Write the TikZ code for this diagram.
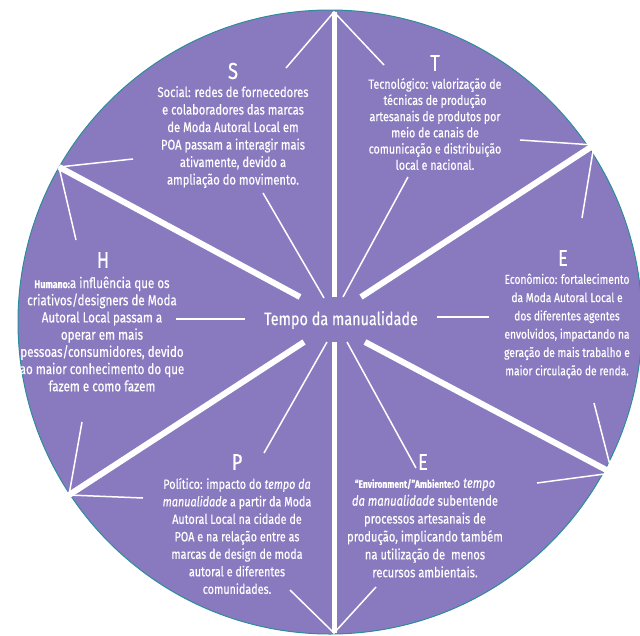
\documentclass[tikz,border=0pt]{standalone}
\usepackage{fontspec}
\setmainfont[FakeStretch=0.8,FakeBold=0.4]{Fira Sans}
\definecolor{bg}{RGB}{137,122,192}
\definecolor{rimc}{RGB}{45,140,155}
\begin{document}
\begin{tikzpicture}[x=1pt,y=-1pt,
  bigline/.style={white,line width=6pt},
  vline/.style={white,line width=5pt},
  thinline/.style={white,line width=1.5pt},
  txt/.style={text=white,align=center,inner sep=0pt,font=\fontsize{13.5}{17.5}\selectfont},
  letter/.style={text=white,inner sep=0pt,font=\fontsize{23}{24}\selectfont},
  centre/.style={text=white,inner sep=2pt,font=\fontsize{18}{20}\selectfont}]
\useasboundingbox (0,0) rectangle (640,635);
\fill[bg,draw=rimc,line width=1pt] (330,322) circle (312pt);
% rim points
\coordinate (top) at (334,12);
\coordinate (bot) at (334,633);
\coordinate (ul) at (59,167);
\coordinate (ur) at (594,145);
\coordinate (ll) at (69,495);
\coordinate (lr) at (612,473);
% inner ends
\coordinate (cu) at (334,297);
\coordinate (cd) at (334,342);
\coordinate (cul) at (300,297);
\coordinate (cur) at (361,297);
\coordinate (cll) at (304,342);
\coordinate (clr) at (365,342);
% thick spokes
\draw[vline] (top) -- (cu);
\draw[vline] (cd) -- (bot);
\draw[bigline] (ul) -- (cul);
\draw[bigline] (ur) -- (cur);
\draw[bigline] (ll) -- (cll);
\draw[bigline] (lr) -- (clr);
% thin ends
\coordinate (t1) at (286,68);
\coordinate (t2) at (384,65);
\coordinate (ul1) at (133,159);
\coordinate (ul2) at (76,240);
\coordinate (ur1) at (520,140);
\coordinate (ur2) at (582,218);
\coordinate (ll1) at (143,498);
\coordinate (ll2) at (82,422);
\coordinate (lr1) at (537,483);
\coordinate (lr2) at (594,403);
\coordinate (b1) at (290,590);
\coordinate (b2) at (376,587);
\coordinate (a1s) at (324,298);
\coordinate (a1e) at (263,193);
\coordinate (a2s) at (343,297);
\coordinate (a2e) at (408,177);
\coordinate (d1s) at (327,342);
\coordinate (d1e) at (264,453);
\coordinate (d2s) at (347,342);
\coordinate (d2e) at (416,468);
\coordinate (hl1) at (176,319);
\coordinate (hl2) at (245,319);
\coordinate (hr1) at (437,317);
\coordinate (hr2) at (489,317);
\draw[thinline] (t1) -- (top) -- (t2);
\draw[thinline] (ul1) -- (ul) -- (ul2);
\draw[thinline] (ur1) -- (ur) -- (ur2);
\draw[thinline] (ll1) -- (ll) -- (ll2);
\draw[thinline] (lr1) -- (lr) -- (lr2);
\draw[thinline] (b1) -- (bot) -- (b2);
\draw[thinline] (a1s) -- (a1e);
\draw[thinline] (a2s) -- (a2e);
\draw[thinline] (d1s) -- (d1e);
\draw[thinline] (d2s) -- (d2e);
\draw[thinline] (hl1) -- (hl2);
\draw[thinline] (hr1) -- (hr2);
% centre
\node[centre] (tempo) at (341,320) {Tempo da manualidade};
% letters
\node[letter] (lS) at (233,71) {S};
\node[letter] (lT) at (435,63) {T};
\node[letter] (lH) at (103,260) {H};
\node[letter] (lE1) at (563,258) {E};
\node[letter] (lP) at (237,462) {P};
\node[letter] (lE2) at (423,462) {E};
% texts
\node[txt,font=\fontsize{14}{17.5}\selectfont] (tS) at (233,137) {Social: redes de fornecedores\\e colaboradores das marcas\\de Moda Autoral Local em\\POA passam a interagir mais\\ativamente, devido a\\ampliação do movimento.};
\node[txt,font=\fontsize{13.3}{16.2}\selectfont] (tT) at (435,124) {Tecnológico: valorização de\\técnicas de produção\\artesanais de produtos por\\meio de canais de\\comunicação e distribuição\\local e nacional.};
\node[txt,font=\fontsize{14.5}{17.2}\selectfont] (tH) at (102,334) {{\fontsize{11}{17}\selectfont\bfseries Humano:}a influência que os\\criativos/designers de Moda\\Autoral Local passam a\\operar em mais\\pessoas/consumidores, devido\\ao maior conhecimento do que\\fazem e como fazem};
\node[txt,font=\fontsize{12.8}{18.3}\selectfont] (tE1) at (567,326) {Econômico: fortalecimento\\da Moda Autoral Local e\\dos diferentes agentes\\envolvidos, impactando na\\geração de mais trabalho e\\maior circulação de renda.};
\node[txt] (tP) at (237,536) {Político: impacto do \textit{tempo da}\\\textit{manualidade} a partir da Moda\\Autoral Local na cidade de\\POA e na relação entre as\\marcas de design de moda\\autoral e diferentes\\comunidades.};
\node[txt,font=\fontsize{14}{17.9}\selectfont] (tE2) at (425,528) {{\fontsize{10.5}{17}\selectfont\bfseries “Environment/”Ambiente:}o \textit{tempo}\\\textit{da manualidade} subentende\\processos artesanais de\\produção, implicando também\\na utilização de\ \ menos\\recursos ambientais.};
\end{tikzpicture}
\end{document}
